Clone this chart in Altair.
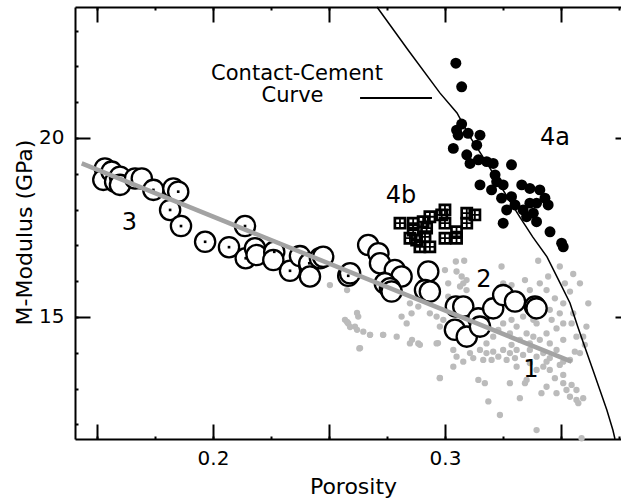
import altair as alt
import pandas as pd

FONT = "DejaVu Sans"

# Axis ranges
P_DOMAIN = [0.1405, 0.3759]
M_DOMAIN = [11.59, 23.66]
X_LABEL_TICKS = [0.2, 0.3]
X_MAJOR = [0.15, 0.2, 0.25, 0.3, 0.35]
X_MINOR = [0.15, 0.175, 0.2, 0.225, 0.25, 0.275, 0.3, 0.325, 0.35, 0.375]
Y_MAJOR = [15, 20]
Y_MINOR = [12, 13, 14, 15, 16, 17, 18, 19, 20, 21, 22, 23]

# Group 3 / 2 : hollow circles
CIRC_P = [0.1534, 0.1527, 0.1563, 0.1578, 0.1599, 0.1599, 0.1664, 0.1693, 0.1743, 0.1829,
          0.1850, 0.1815, 0.1862, 0.1966, 0.2069, 0.2138, 0.2141, 0.2181, 0.2188, 0.2264,
          0.2260, 0.2332, 0.2375, 0.2415, 0.2418, 0.2461, 0.2475, 0.2583, 0.2591, 0.2669,
          0.2713, 0.2720, 0.2784, 0.2813, 0.2741, 0.2763, 0.2770, 0.2928, 0.2914, 0.2935,
          0.3047, 0.3043, 0.3079, 0.3094, 0.3144, 0.3151, 0.3208, 0.3251, 0.3302, 0.3388,
          0.3395]
CIRC_M = [19.15, 18.83, 19.06, 18.78, 18.92, 18.69, 18.87, 18.87, 18.55, 18.59,
          18.50, 17.99, 17.54, 17.10, 16.95, 17.54, 16.64, 16.92, 16.73, 16.82,
          16.59, 16.29, 16.70, 16.50, 16.13, 16.64, 16.68, 16.15, 16.22, 17.01,
          16.78, 16.50, 16.31, 16.13, 15.94, 15.80, 15.71, 16.27, 15.75, 15.71,
          15.29, 14.64, 15.29, 14.45, 14.96, 14.73, 15.24, 15.61, 15.43, 15.29,
          15.24]
CIRC_DOT = [0, 0, 0, 0, 0, 0, 0, 0, 1, 0,
            1, 1, 1, 1, 1, 1, 1, 0, 0, 1,
            0, 1, 0, 1, 0, 0, 0, 1, 0, 0,
            0, 0, 0, 0, 0, 0, 0, 0, 0, 0,
            0, 0, 0, 0, 0, 0, 0, 0, 0, 0,
            0]

# Group 4a : black dots
BLK_P = [0.3047, 0.3072, 0.3072, 0.3057, 0.3050, 0.3100, 0.3151, 0.3137, 0.3036, 0.3094,
         0.3108, 0.3144, 0.3180, 0.3208, 0.3287, 0.3216, 0.3223, 0.3151, 0.3201, 0.3251,
         0.3244, 0.3287, 0.3331, 0.3366, 0.3409, 0.3302, 0.3266, 0.3251, 0.3337, 0.3366,
         0.3395, 0.3431, 0.3445, 0.3381, 0.3395, 0.3352, 0.3453, 0.3503, 0.3510]
BLK_M = [22.09, 21.43, 20.39, 20.08, 20.22, 20.13, 20.08, 19.80, 19.71, 19.53,
         19.29, 19.39, 19.34, 19.29, 19.25, 18.97, 18.78, 18.69, 18.55, 18.69,
         18.32, 18.36, 18.69, 18.59, 18.55, 18.13, 17.99, 17.62, 17.99, 18.18,
         18.18, 18.32, 18.13, 17.90, 17.66, 17.80, 17.38, 17.06, 16.96]

# Group 4b : window squares
SQ_P = [0.2806, 0.2863, 0.2906, 0.2935, 0.2986, 0.3000, 0.3094, 0.3129, 0.3000, 0.3094,
        0.3050, 0.3000, 0.3050, 0.2863, 0.2921, 0.2849, 0.2878, 0.2914, 0.2892, 0.2935]
SQ_M = [17.62, 17.62, 17.66, 17.80, 17.85, 17.99, 17.90, 17.85, 17.62, 17.62,
        17.38, 17.20, 17.20, 17.43, 17.48, 17.20, 17.15, 17.24, 16.96, 16.96]

# Group 1 : gray dots
GRAY_P = [0.3047, 0.3083, 0.3244, 0.3402, 0.3445, 0.3553, 0.3000, 0.3050, 0.3072, 0.3093,
          0.3079, 0.3065, 0.3093, 0.3251, 0.3287, 0.3366, 0.3438, 0.3474, 0.3510, 0.3618,
          0.3539, 0.3517, 0.2583, 0.2612, 0.2626, 0.2569, 0.2648, 0.2677, 0.2734, 0.2792,
          0.2849, 0.2885, 0.2964, 0.2631, 0.2813, 0.2835, 0.2856, 0.2885, 0.2849, 0.2935,
          0.2964, 0.2978, 0.2993, 0.3036, 0.3050, 0.3079, 0.3108, 0.3151, 0.3179, 0.3208,
          0.3230, 0.3251, 0.3280, 0.3309, 0.3337, 0.3366, 0.3395, 0.3424, 0.3452, 0.3481,
          0.3510, 0.3036, 0.2978, 0.3144, 0.3172, 0.3280, 0.3345, 0.3395, 0.3438, 0.3481,
          0.3510, 0.3524, 0.3539, 0.3567, 0.3416, 0.3323, 0.3187, 0.3237, 0.3395, 0.3589,
          0.3596, 0.3603, 0.3582, 0.3567, 0.3546, 0.3510, 0.3481, 0.3438, 0.3409, 0.3381,
          0.3352, 0.3309, 0.3287, 0.3251, 0.3230, 0.3208, 0.3280, 0.3337, 0.3381, 0.3424,
          0.3452, 0.3495, 0.3309, 0.3366, 0.3424, 0.3452, 0.3352,
          0.2504, 0.2578, 0.2621, 0.2578, 0.2591, 0.2621, 0.2677, 0.2634, 0.2733, 0.2858,
          0.2970, 0.2978, 0.2892,
          0.3122, 0.3165, 0.3201, 0.3266, 0.3302, 0.3438, 0.3495, 0.3539, 0.3560, 0.3179,
          0.3287, 0.3366, 0.3452, 0.3510, 0.3323, 0.3158, 0.3395, 0.3460, 0.3510, 0.3474,
          0.3546, 0.3567, 0.3596, 0.3575,
          0.3014, 0.3036, 0.3072, 0.3021, 0.3014, 0.3345, 0.3409, 0.3495, 0.3582, 0.3553,
          0.3610]
GRAY_M = [16.55, 16.57, 16.41, 16.57, 16.13, 16.20, 16.31, 16.27, 16.13, 16.03,
          15.94, 15.85, 15.75, 15.94, 15.89, 15.75, 15.75, 15.52, 15.38, 15.38,
          15.71, 15.94, 14.82, 14.73, 15.01, 14.92, 14.59, 14.50, 14.50, 14.45,
          14.26, 14.26, 14.26, 14.12, 15.01, 14.82, 15.10, 15.29, 15.38, 15.10,
          15.01, 14.73, 14.92, 14.08, 13.89, 13.75, 13.99, 14.08, 13.99, 14.03,
          13.89, 14.08, 13.99, 14.08, 13.94, 14.08, 13.89, 13.99, 13.85, 14.08,
          13.75, 13.61, 13.29, 13.24, 13.15, 13.15, 13.15, 13.52, 13.05, 12.87,
          13.15, 12.96, 12.77, 12.68, 12.87, 12.73, 12.64, 12.26, 11.84, 11.61,
          14.45, 14.22, 13.99, 14.45, 14.82, 14.82, 14.68, 14.54, 14.36, 14.45,
          14.54, 14.73, 14.92, 14.82, 14.64, 14.45, 14.54, 15.01, 14.92, 15.10,
          15.20, 15.10, 13.61, 13.71, 13.61, 13.52, 13.24,
          15.89, 15.75, 15.11, 14.86, 14.72, 14.64, 14.50, 14.13, 14.50, 14.36,
          14.27, 13.30, 14.22,
          13.85, 13.80, 13.80, 13.80, 13.85, 13.75, 13.66, 13.80, 14.03, 14.26,
          14.22, 14.26, 14.26, 14.36, 14.36, 14.54, 14.82, 14.92, 13.38, 13.29,
          13.10, 12.96, 12.73, 12.59,
          15.94, 15.38, 15.38, 15.20, 15.57, 16.03, 15.94, 16.41, 15.94, 15.10,
          14.73]

# Contact-cement curve
CURVE_P = [0.2707, 0.2841, 0.2978, 0.3052, 0.3108, 0.3181, 0.3250, 0.3323, 0.3379, 0.3440,
           0.3496, 0.3539, 0.3573, 0.3603, 0.3638, 0.3668, 0.3698, 0.3724, 0.3733]
CURVE_M = [23.66, 22.46, 21.26, 20.70, 20.03, 19.30, 18.55, 17.79, 17.23, 16.68,
           15.95, 15.39, 14.72, 14.16, 13.52, 12.96, 12.40, 11.84, 11.59]

# Regression (trend) line
TREND_P = [0.1434, 0.3546]
TREND_M = [19.29, 13.75]

# Line next to "Contact-Cement Curve"
KEY_P = [0.2634, 0.2944]
KEY_M = 21.12

# Region labels
REG_TEXT = ["3", "4b", "4a", "2", "1"]
REG_P = [0.1640, 0.2810, 0.3474, 0.3168, 0.3371]
REG_M = [17.62, 18.39, 19.99, 16.03, 13.52]

NOTE_TEXT = ["Contact-Cement", "Curve"]
NOTE_P = [0.2362, 0.2343]
NOTE_M = [21.80, 21.16]

WINDOW_SHAPE = ("M-1,-1H1V1H-1Z"
                "M-0.58,-0.58V-0.14H-0.14V-0.58Z"
                "M0.14,-0.58V-0.14H0.58V-0.58Z"
                "M-0.58,0.14V0.58H-0.14V0.14Z"
                "M0.14,0.14V0.58H0.58V0.14Z")

xs = alt.Scale(domain=P_DOMAIN, nice=False, zero=False)
ys = alt.Scale(domain=M_DOMAIN, nice=False, zero=False)

BASE = dict(grid=False, domainColor="black", tickColor="black", labelColor="black",
            titleColor="black", labelFont=FONT, titleFont=FONT)


def tick_axis(orient, values, size, offset, width=2):
    return alt.Axis(orient=orient, values=values, tickSize=size, offset=offset,
                    tickWidth=width, labels=False, domain=False, title=None, **BASE)


gray_df = pd.DataFrame({"p": GRAY_P, "m": GRAY_M})
circ_df = pd.DataFrame({"p": CIRC_P, "m": CIRC_M, "dot": CIRC_DOT})
blk_df = pd.DataFrame({"p": BLK_P, "m": BLK_M})
sq_df = pd.DataFrame({"p": SQ_P, "m": SQ_M})
curve_df = pd.DataFrame({"p": CURVE_P, "m": CURVE_M})
trend_df = pd.DataFrame({"p": TREND_P, "m": TREND_M})
key_df = pd.DataFrame({"p": [KEY_P[0]], "p2": [KEY_P[1]], "m": [KEY_M]})
reg_df = pd.DataFrame({"p": REG_P, "m": REG_M, "t": REG_TEXT})
note_df = pd.DataFrame({"p": NOTE_P, "m": NOTE_M, "t": NOTE_TEXT})

gray = alt.Chart(gray_df).mark_circle(size=40, color="#bbbbbb", opacity=1).encode(
    x=alt.X("p:Q", scale=xs, axis=alt.Axis(
        orient="bottom", values=X_LABEL_TICKS, format=".1f", ticks=False, tickSize=0,
        domain=True, domainWidth=2, labelFontSize=20, labelPadding=9,
        title="Porosity", titleFontSize=22, titleFontWeight="normal",
        titleX=278, titleY=54, titleBaseline="alphabetic", **BASE)),
    y=alt.Y("m:Q", scale=ys, axis=alt.Axis(
        orient="left", values=Y_MAJOR, ticks=False, tickSize=0,
        domain=True, domainWidth=2, labelFontSize=20, labelPadding=11,
        title="M-Modulus (GPa)", titleFontSize=22, titleFontWeight="normal",
        titleX=-51, titleY=225, titleBaseline="middle", **BASE)),
)

curve = alt.Chart(curve_df).mark_line(color="black", strokeWidth=1.5).encode(
    x=alt.X("p:Q", scale=xs, axis=tick_axis("bottom", X_MAJOR, 15, -15)),
    y=alt.Y("m:Q", scale=ys, axis=tick_axis("left", Y_MAJOR, 15, -15)),
)

circles = alt.Chart(circ_df).mark_point(
    shape="circle", filled=True, fill="white", stroke="black", strokeWidth=2.3,
    size=410, opacity=1, fillOpacity=1).encode(
    x=alt.X("p:Q", scale=xs, axis=tick_axis("bottom", X_MINOR, 3, -3)),
    y=alt.Y("m:Q", scale=ys, axis=tick_axis("left", Y_MINOR, 3, -3)),
)

dots = alt.Chart(circ_df).transform_filter("datum.dot == 1").mark_point(
    shape="square", filled=True, color="black", size=7, opacity=1).encode(
    x=alt.X("p:Q", scale=xs, axis=alt.Axis(
        orient="top", ticks=False, tickSize=0, labels=False, domain=True,
        domainWidth=2, title=None, **BASE)),
    y=alt.Y("m:Q", scale=ys, axis=tick_axis("right", Y_MAJOR, 6, -6)),
)

squares = alt.Chart(sq_df).mark_point(
    shape=WINDOW_SHAPE, filled=True, color="black", size=165, opacity=1).encode(
    x=alt.X("p:Q", scale=xs, axis=tick_axis("top", X_MAJOR, 15, -15)),
    y=alt.Y("m:Q", scale=ys, axis=None),
)

black = alt.Chart(blk_df).mark_circle(size=120, color="black", opacity=1).encode(
    x=alt.X("p:Q", scale=xs, axis=tick_axis("top", X_MINOR, 3, -3)),
    y=alt.Y("m:Q", scale=ys, axis=None),
)

trend = alt.Chart(trend_df).mark_line(color="#a3a3a3", strokeWidth=4.5).encode(
    x=alt.X("p:Q", scale=xs, axis=None),
    y=alt.Y("m:Q", scale=ys, axis=None),
)

key = alt.Chart(key_df).mark_rule(color="black", strokeWidth=2).encode(
    x=alt.X("p:Q", scale=xs, axis=None),
    x2="p2:Q",
    y=alt.Y("m:Q", scale=ys, axis=None),
)

regions = alt.Chart(reg_df).mark_text(font=FONT, fontSize=24, color="black",
                                       baseline="middle", align="center").encode(
    x=alt.X("p:Q", scale=xs, axis=None),
    y=alt.Y("m:Q", scale=ys, axis=None),
    text="t:N",
)

notes = alt.Chart(note_df).mark_text(font=FONT, fontSize=21, color="black",
                                     baseline="middle", align="center").encode(
    x=alt.X("p:Q", scale=xs, axis=None),
    y=alt.Y("m:Q", scale=ys, axis=None),
    text="t:N",
)

chart = alt.layer(
    gray, curve, circles, dots, squares, black, trend, key, regions, notes
).resolve_axis(
    x="independent", y="independent"
).properties(
    width=546, height=432,
    autosize=alt.AutoSizeParams(type="none"),
    padding={"left": 75, "top": 7, "right": 0, "bottom": 63},
    background="white",
).configure_view(stroke=None)

chart.save("out.html", embed_options={"renderer": "svg", "actions": False})
